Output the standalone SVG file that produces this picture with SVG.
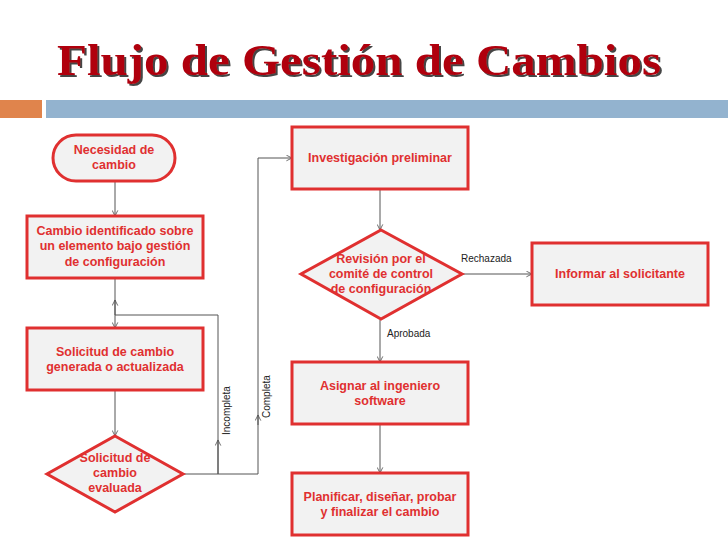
<svg xmlns="http://www.w3.org/2000/svg" width="728" height="546" viewBox="0 0 728 546">
<defs>
<style>
.n{fill:#f2f2f2;stroke:#e03030;stroke-width:3}
.t{font-family:"Liberation Sans",Arial,sans-serif;font-weight:bold;font-size:12.5px;fill:#e03030;text-anchor:middle}
.l{font-family:"Liberation Sans",Arial,sans-serif;font-size:10px;fill:#222}
.c{fill:none;stroke:#555;stroke-width:1}
</style>
<filter id="sh" x="-5%" y="-20%" width="110%" height="140%"><feDropShadow dx="2" dy="2" stdDeviation="0.5" flood-color="#333" flood-opacity="0.9"/></filter>
<marker id="a" viewBox="0 0 10 10" refX="9" refY="5" markerWidth="7" markerHeight="7" orient="auto"><path d="M1,1 L9,5 L1,9" fill="none" stroke="#555" stroke-width="1.2"/></marker>
</defs>
<rect width="728" height="546" fill="#fff"/>
<text x="57" y="75" textLength="604" lengthAdjust="spacingAndGlyphs" font-family="'Liberation Serif','Times New Roman',serif" font-weight="bold" font-size="44" fill="#b00010" filter="url(#sh)">Flujo de Gestión de Cambios</text>
<rect x="0" y="100" width="42" height="18" fill="#e0844c"/>
<rect x="46" y="100" width="682" height="18" fill="#93b3cf"/>
<g id="connectors">
<path class="c" d="M115,180 V216" marker-end="url(#a)"/>
<path class="c" d="M115,278 V328" marker-end="url(#a)"/>
<path class="c" d="M218,315 H115 V300" marker-end="url(#a)"/>
<path class="c" d="M115,390 V436" marker-end="url(#a)"/>
<path class="c" d="M183,474 H218 V315"/>
<path class="c" d="M218,474 V440" marker-end="url(#a)"/>
<path class="c" d="M218,474 H258 V158 H292" marker-end="url(#a)"/>
<path class="c" d="M258,425 V415" marker-end="url(#a)"/>
<path class="c" d="M380,189 V230" marker-end="url(#a)"/>
<path class="c" d="M462,274 H532" marker-end="url(#a)"/>
<path class="c" d="M380,320 V362" marker-end="url(#a)"/>
<path class="c" d="M380,424 V473" marker-end="url(#a)"/>
<text class="l" transform="translate(230,435) rotate(-90)">Incompleta</text>
<text class="l" transform="translate(270,418) rotate(-90)">Completa</text>
<text class="l" x="461" y="262">Rechazada</text>
<text class="l" x="387" y="337">Aprobada</text>
</g>
<g id="n1"><rect class="n" x="53" y="135" width="122" height="46" rx="23"/><text class="t" x="114" y="154">Necesidad de</text><text class="t" x="114" y="169">cambio</text></g>
<g id="n2"><rect class="n" x="27" y="216" width="176" height="62"/><text class="t" x="115" y="235">Cambio identificado sobre</text><text class="t" x="115" y="250">un elemento bajo gestión</text><text class="t" x="115" y="266">de configuración</text></g>
<g id="n3"><rect class="n" x="27" y="328" width="176" height="62"/><text class="t" x="115" y="356">Solicitud de cambio</text><text class="t" x="115" y="371">generada o actualizada</text></g>
<g id="n4"><polygon class="n" points="115,436 183,474 115,512 47,474"/><text class="t" x="115" y="462">Solicitud de</text><text class="t" x="115" y="477">cambio</text><text class="t" x="115" y="492">evaluada</text></g>
<g id="n5"><rect class="n" x="292" y="127" width="176" height="62"/><text class="t" x="380" y="162">Investigación preliminar</text></g>
<g id="n6"><polygon class="n" points="381,230 462,274 381,319 301,274"/><text class="t" x="381" y="263">Revisión por el</text><text class="t" x="381" y="278">comité de control</text><text class="t" x="381" y="293">de configuración</text></g>
<g id="n7"><rect class="n" x="532" y="243" width="176" height="62"/><text class="t" x="620" y="278">Informar al solicitante</text></g>
<g id="n8"><rect class="n" x="292" y="362" width="176" height="62"/><text class="t" x="380" y="390">Asignar al ingeniero</text><text class="t" x="380" y="405">software</text></g>
<g id="n9"><rect class="n" x="292" y="473" width="176" height="62"/><text class="t" x="380" y="501">Planificar, diseñar, probar</text><text class="t" x="380" y="516">y finalizar el cambio</text></g>
</svg>
